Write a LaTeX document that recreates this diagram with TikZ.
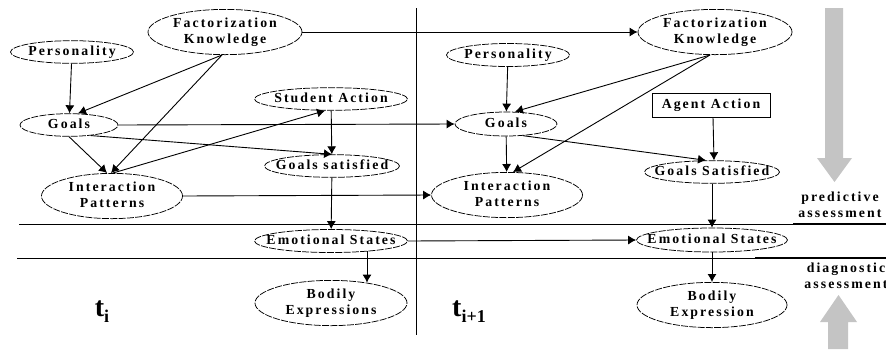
\documentclass[tikz,border=0pt]{standalone}
\usepackage{fontspec}
\setmainfont{Liberation Serif}
\newfontfamily\lblfont[LetterSpace=15]{Liberation Serif}
\newcommand\lblf{\lblfont\bfseries\fontsize{13.8}{16}\selectfont}
\newcommand\zc[1]{\makebox[0pt]{\begin{tabular}{@{}c@{}}#1\end{tabular}}}
\usetikzlibrary{shapes.geometric,arrows.meta}
\definecolor{bargray}{HTML}{C4C4C4}
\begin{document}
\begin{tikzpicture}[x=1pt,y=-1pt,
  ell/.style={ellipse,draw,line width=0.75pt,dash pattern=on 7pt off 1.3pt,inner sep=0pt,align=center,font=\lblf},
  rbox/.style={rectangle,draw,line width=0.9pt,inner sep=0pt,align=center,font=\lblf},
  arr/.style={-{Latex[length=8pt,width=9pt]},line width=0.9pt},
  lbl/.style={font=\lblf,align=center,inner sep=0pt},
  tlbl/.style={font=\bfseries,inner sep=0pt}]
\useasboundingbox[fill=white] (0,0) rectangle (886,349);

% separators
\draw[line width=0.9pt] (19,224) -- (886,224);
\draw[line width=2.2pt] (793,224) -- (886,224);
\draw[line width=0.9pt] (17,258) -- (886,258);
\draw[line width=2.2pt] (755,258) -- (886,258);
\draw[line width=1pt] (416,8) -- (416,335);

% gray arrows
\fill[bargray] (825,8) -- (843,8) -- (843,158) -- (852,158) -- (834.5,182) -- (817,158) -- (825,158) -- cycle;
\fill[bargray] (828,349) -- (848,349) -- (848,322) -- (857,322) -- (838.5,295) -- (820,322) -- (828,322) -- cycle;

% left slice
\node[ell,minimum width=154,minimum height=45] (lfk) at (225,32) {\zc{Factorization\\Knowledge}};
\node[ell,minimum width=123,minimum height=21] (lpers) at (72,52) {\zc{Personality}};
\node[ell,minimum width=98,minimum height=20] (lgoals) at (69,125) {\zc{Goals}};
\node[ell,minimum width=153,minimum height=20] (lsa) at (331,99) {\zc{Student Action}};
\node[ell,minimum width=135,minimum height=20] (lgs) at (332,166) {\zc{Goals satisfied}};
\node[ell,minimum width=141,minimum height=37] (lip) at (112,196) {\zc{Interaction\\Patterns}};
\node[ell,minimum width=153,minimum height=23] (les) at (331,241) {\zc{Emotional States}};
\node[ell,minimum width=152,minimum height=43] (lbe) at (331,303) {\zc{Bodily\\Expressions}};

% right slice
\node[ell,minimum width=154,minimum height=43] (rfk) at (715,32) {\zc{Factorization\\Knowledge}};
\node[ell,minimum width=123,minimum height=23] (rpers) at (508,55) {\zc{Personality}};
\node[ell,minimum width=102,minimum height=24] (rgoals) at (506,124) {\zc{Goals}};
\node[rbox,minimum width=118,minimum height=24] (raa) at (711,105) {\zc{Agent Action}};
\node[ell,minimum width=135,minimum height=20] (rgs) at (712,172) {\zc{Goals Satisfied}};
\node[ell,minimum width=151,minimum height=44] (rip) at (507,195) {\zc{Interaction\\Patterns}};
\node[ell,minimum width=151,minimum height=24] (res) at (712,240) {\zc{Emotional States}};
\node[ell,minimum width=150,minimum height=44] (rbe) at (712,305) {\zc{Bodily\\Expression}};

% labels
\node[lbl] (pred) at (840,205) {predictive\\assessment};
\node[lbl] (diag) at (846,276) {diagnostic\\assessment};
\node[tlbl] (ti) at (102,312) {\fontsize{28}{30}\selectfont t\raisebox{-6pt}{\fontsize{18}{20}\selectfont i}};
\node[tlbl] (tip) at (469,312) {\fontsize{28}{30}\selectfont t\raisebox{-6pt}{\fontsize{18}{20}\selectfont i+1}};

% left edges
\draw[arr] (lpers) -- (lgoals);
\draw[arr] ([xshift=-3pt]lfk.south) -- ([xshift=9pt]lgoals.north);
\draw[arr] ([xshift=-3pt]lfk.south) -- ([xshift=-1pt]lip.north);
\draw[arr] (lgoals.south) -- ([xshift=-5pt]lip.north);
\draw[arr] ([xshift=1pt]lip.north) -- ([xshift=-6pt]lsa.south);
\draw[arr] ([xshift=22pt,yshift=1.1pt]lgoals.south) -- (lgs.north);
\draw[arr] (lsa) -- (lgs);
\draw[arr] (lgs) -- (les);
\draw[arr] ([xshift=36pt,yshift=1.4pt]les.south) -- ([xshift=36pt,yshift=-2.6pt]lbe.north);

% inter-slice edges
\draw[arr] (lfk.east) -- (rfk.west);
\draw[arr] (lgoals.east) -- (rgoals.west);
\draw[arr] (lip.east) -- (rip.west);
\draw[arr] (les.east) -- (res.west);

% right edges
\draw[arr] (rpers) -- (rgoals);
\draw[arr] ([xshift=-5pt]rfk.south) -- ([xshift=9pt]rgoals.north);
\draw[arr] ([xshift=-5pt]rfk.south) -- ([xshift=6pt]rip.north);
\draw[arr] (rgoals) -- (rip);
\draw[arr] ([xshift=17pt,yshift=0.7pt]rgoals.south) -- ([xshift=-6pt]rgs.north);
\draw[arr] ([xshift=2pt]raa.south) -- ([xshift=2pt]rgs.north);
\draw[arr] (rgs) -- (res);
\draw[arr] (res) -- (rbe);
\end{tikzpicture}
\end{document}
